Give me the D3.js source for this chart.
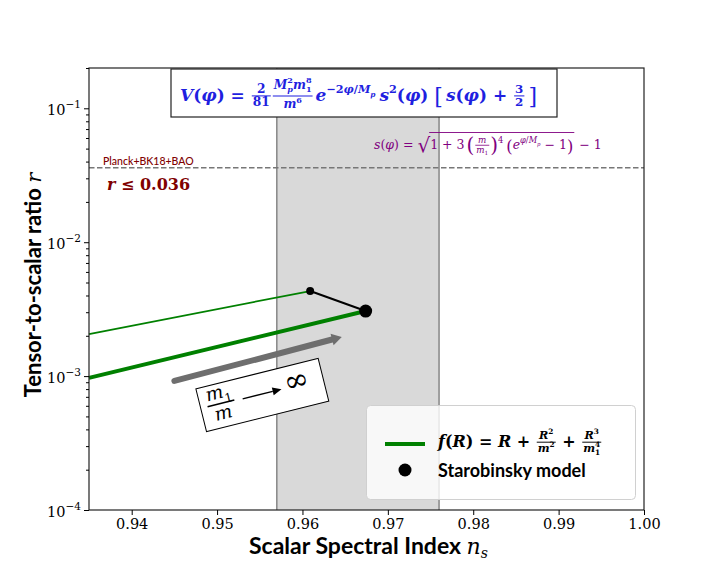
<!DOCTYPE html>
<html>
<head>
<meta charset="utf-8">
<script src="https://cdn.jsdelivr.net/npm/d3@7"></script>
<style>
  body { margin: 0; background: #fff; }
  text { white-space: pre; }
</style>
</head>
<body>
<div id="chart"></div>
<script>
// chart values
const nsDomain = [0.935, 1.0];
const rDomain = [1e-4, 0.2];
const xTickValues = [0.94, 0.95, 0.96, 0.97, 0.98, 0.99, 1.00];
const yMajorTicks = [1e-4, 1e-3, 1e-2, 1e-1];
const planckNs = [0.957, 0.976];
const rUpper = 0.036;
const thinNs = [0.935, 0.9609];
const thinR = [0.00206, 0.00432];
const thickNs = [0.935, 0.9674];
const thickR = [0.00097, 0.00306];
const staroNs = [0.9609, 0.9674];
const staroR = [0.00432, 0.00306];
const staroSize = [4, 6.5];
const arrowNs = [0.945, 0.9646];
const arrowR = [0.00092, 0.00196];

const width = 716, height = 573;
const margin = {top: 68, right: 72, bottom: 63, left: 89};
const serif = "'DejaVu Serif', serif";
const mathFont = "'DejaVu Serif', serif";
const sans = "Lato, 'DejaVu Sans', sans-serif";

const svg = d3.select('#chart').append('svg')
  .attr('width', width).attr('height', height);

const x = d3.scaleLinear().domain(nsDomain).range([margin.left, width - margin.right]);
const y = d3.scaleLog().domain(rDomain).range([height - margin.bottom, margin.top]);

// little math layout helper: strings upright, {i:..} italic, {sup}/{sub}, {frac:[num,den]}
function row(g, x0, y0, size, items) {
  let cx = x0;
  items.forEach(function (it) {
    if (typeof it === 'string' || it.i !== undefined) {
      const s = typeof it === 'string' ? it : it.i;
      const t = g.append('text').attr('x', cx).attr('y', y0)
        .style('font-size', size + 'px')
        .style('font-style', typeof it === 'string' ? 'normal' : 'italic')
        .text(s);
      cx += t.node().getComputedTextLength();
    } else if (it.gap !== undefined) {
      cx += it.gap;
    } else if (it.sup !== undefined || it.sub !== undefined) {
      let w1 = 0, w2 = 0;
      if (it.sup) w1 = row(g, cx, y0 - size * 0.45, size * 0.66, it.sup);
      if (it.sub) w2 = row(g, cx, y0 + size * 0.3, size * 0.66, it.sub);
      cx += Math.max(w1, w2);
    } else if (it.frac) {
      const fs = size * (it.fs || 0.7);
      const lift = it.lift || 0;
      const gn = g.append('g'), gd = g.append('g');
      const wn = row(gn, 0, 0, fs, it.frac[0]);
      const wd = row(gd, 0, 0, fs, it.frac[1]);
      const w = Math.max(wn, wd) + 2;
      cx += 1;
      gn.attr('transform', 'translate(' + (cx + (w - wn) / 2) + ',' + (y0 - size * 0.5 - lift) + ')');
      gd.attr('transform', 'translate(' + (cx + (w - wd) / 2) + ',' + (y0 - size * 0.3 + fs * 0.85 + lift / 2) + ')');
      g.append('line').attr('x1', cx).attr('x2', cx + w)
        .attr('y1', y0 - size * 0.3).attr('y2', y0 - size * 0.3)
        .attr('stroke', g.attr('fill')).attr('stroke-width', Math.max(0.8, size * 0.06));
      cx += w + 1;
    } else if (it.big) {
      const t = g.append('text').attr('x', cx).attr('y', y0 + size * 0.2)
        .style('font-size', size * it.scale + 'px').style('font-weight', 'normal')
        .text(it.big);
      cx += t.node().getComputedTextLength();
    } else if (it.sqrt) {
      const t = g.append('text').attr('x', cx).attr('y', y0 + size * 0.25)
        .style('font-size', size * 1.6 + 'px').style('font-weight', 'normal')
        .text('√');
      const sw = t.node().getComputedTextLength();
      const start = cx + sw - 1;
      const w = row(g, start + 1, y0, size, it.sqrt);
      g.append('line').attr('x1', start).attr('x2', start + w + 2)
        .attr('y1', y0 - size * 1.32).attr('y2', y0 - size * 1.32)
        .attr('stroke', g.attr('fill')).attr('stroke-width', 0.9);
      cx = start + w + 3;
    }
  });
  return cx - x0;
}

// Planck band
svg.append('rect')
  .attr('x', x(planckNs[0])).attr('y', margin.top)
  .attr('width', x(planckNs[1]) - x(planckNs[0]))
  .attr('height', height - margin.bottom - margin.top)
  .attr('fill', '#d9d9d9');
planckNs.forEach(function (v) {
  svg.append('line').attr('x1', x(v)).attr('x2', x(v))
    .attr('y1', margin.top).attr('y2', height - margin.bottom)
    .attr('stroke', '#555').attr('stroke-width', 1);
});

// r bound
svg.append('line')
  .attr('x1', margin.left).attr('x2', width - margin.right)
  .attr('y1', y(rUpper)).attr('y2', y(rUpper))
  .attr('stroke', '#777').attr('stroke-width', 1.5)
  .attr('stroke-dasharray', '5.5,2.5');

const line = d3.line().x(d => x(d[0])).y(d => y(d[1]));

svg.append('path').datum(d3.zip(thinNs, thinR)).attr('d', line)
  .attr('fill', 'none').attr('stroke', 'green').attr('stroke-width', 1.8);
svg.append('path').datum(d3.zip(thickNs, thickR)).attr('d', line)
  .attr('fill', 'none').attr('stroke', 'green').attr('stroke-width', 4);
svg.append('path').datum(d3.zip(staroNs, staroR)).attr('d', line)
  .attr('fill', 'none').attr('stroke', 'black').attr('stroke-width', 2);
svg.selectAll('circle.staro').data(d3.zip(staroNs, staroR, staroSize)).join('circle')
  .attr('class', 'staro')
  .attr('cx', d => x(d[0])).attr('cy', d => y(d[1])).attr('r', d => d[2])
  .attr('fill', 'black');

// arrow drawing helper (line + triangular head)
function arrow(g, x1, y1, x2, y2, col, lw, hl, hw, cap) {
  const ang = Math.atan2(y2 - y1, x2 - x1);
  const bx = x2 - hl * Math.cos(ang), by = y2 - hl * Math.sin(ang);
  g.append('line').attr('x1', x1).attr('y1', y1).attr('x2', bx).attr('y2', by)
    .attr('stroke', col).attr('stroke-width', lw).attr('stroke-linecap', cap);
  g.append('path')
    .attr('d', 'M' + x2 + ',' + y2 +
      'L' + (bx + hw * Math.sin(ang)) + ',' + (by - hw * Math.cos(ang)) +
      'L' + (bx - hw * Math.sin(ang)) + ',' + (by + hw * Math.cos(ang)) + 'Z')
    .attr('fill', col);
}
arrow(svg, x(arrowNs[0]), y(arrowR[0]), x(arrowNs[1]), y(arrowR[1]), '#6e6e6e', 6, 10, 6, 'round');

// rotated m1/m -> infinity box
(function () {
  const g = svg.append('g')
    .attr('transform', 'translate(' + x(0.9553) + ',' + y(0.000723) + ') rotate(-14)')
    .attr('fill', 'black').style('font-family', mathFont);
  g.append('rect').attr('x', -63).attr('y', -22).attr('width', 126).attr('height', 44)
    .attr('fill', 'white').attr('stroke', 'black').attr('stroke-width', 1);
  row(g, -57, 6, 26, [{frac: [[{i: 'm'}, {sub: ['1']}], [{i: 'm'}]], fs: 0.72}]);
  arrow(g, -20, -1, 20, -1, 'black', 1.3, 9, 4, 'butt');
  g.append('text').attr('x', 24).attr('y', 4).style('font-size', '30px').text('∞');
})();

// axes
svg.append('rect')
  .attr('x', margin.left).attr('y', margin.top)
  .attr('width', width - margin.right - margin.left)
  .attr('height', height - margin.bottom - margin.top)
  .attr('fill', 'none').attr('stroke', '#222').attr('stroke-width', 1.2);

const xAxis = svg.append('g')
  .attr('transform', 'translate(0,' + (height - margin.bottom) + ')')
  .call(d3.axisBottom(x).tickValues(xTickValues).tickFormat(d3.format('.2f')).tickSize(5).tickPadding(4));
xAxis.select('.domain').remove();
xAxis.selectAll('text').style('font-family', serif).style('font-size', '14.5px').attr('fill', '#000');

const minor = [];
for (let e = -4; e <= -1; e++) for (let k = 2; k <= 9; k++) {
  const v = k * Math.pow(10, e);
  if (v <= rDomain[1]) minor.push(v);
}
const yAxisMinor = svg.append('g')
  .attr('transform', 'translate(' + margin.left + ',0)')
  .call(d3.axisLeft(y).tickValues(minor).tickFormat('').tickSize(3));
yAxisMinor.select('.domain').remove();

const yAxis = svg.append('g')
  .attr('transform', 'translate(' + margin.left + ',0)')
  .call(d3.axisLeft(y).tickValues(yMajorTicks).tickFormat('').tickSize(5));
yAxis.select('.domain').remove();
yAxis.selectAll('.tick').each(function (d) {
  const t = d3.select(this).append('text')
    .attr('x', -8).attr('y', 6).attr('text-anchor', 'end')
    .attr('fill', '#000').style('font-family', serif).style('font-size', '14.5px');
  t.append('tspan').text('10');
  t.append('tspan').attr('dy', -7).style('font-size', '10.5px').text('−' + Math.round(-Math.log10(d)));
});

svg.append('text')
  .attr('x', (margin.left + width - margin.right) / 2 + 2).attr('y', 554)
  .attr('text-anchor', 'middle')
  .style('font-family', sans).style('font-weight', 'bold').style('font-size', '23px')
  .text('Scalar Spectral Index ')
  .append('tspan').style('font-family', mathFont).style('font-style', 'italic').style('font-weight', 'normal').style('font-size', '22px').text('n')
  .append('tspan').attr('dy', 4).style('font-size', '14px').text('s');

svg.append('text')
  .attr('transform', 'translate(41,' + 285 + ') rotate(-90)')
  .attr('text-anchor', 'middle')
  .style('font-family', sans).style('font-weight', 'bold').style('font-size', '22px')
  .text('Tensor-to-scalar ratio ')
  .append('tspan').style('font-family', mathFont).style('font-style', 'italic').style('font-weight', 'normal').style('font-size', '21px').text('r');

// Planck labels
svg.append('text').attr('x', 103).attr('y', 165)
  .attr('fill', '#800000').style('font-family', sans).style('font-size', '10.5px').style('font-weight', '500')
  .text('Planck+BK18+BAO');
(function () {
  const g = svg.append('g').attr('fill', '#800000').style('font-family', mathFont).style('font-weight', 'bold');
  row(g, 107, 190, 16, [{i: 'r'}, ' ≤ 0.036']);
})();

// potential formula box
svg.append('rect').attr('x', 171).attr('y', 69).attr('width', 386).attr('height', 48)
  .attr('fill', 'white').attr('stroke', '#222').attr('stroke-width', 1.2);
(function () {
  const g = svg.append('g').attr('fill', '#1f1fe0').style('font-family', mathFont).style('font-weight', 'bold');
  row(g, 180, 101, 17, [
    {i: 'V'}, '(', {i: 'φ'}, ') = ',
    {frac: [['2'], ['81']], fs: 0.72},
    {frac: [[{i: 'M'}, {sup: ['2'], sub: [{i: 'p'}]}, {i: 'm'}, {sup: ['8'], sub: ['1']}], [{i: 'm'}, {sup: ['6']}]], fs: 0.72, lift: 4},
    {gap: 2}, {i: 'e'}, {sup: ['−2', {i: 'φ'}, '/', {i: 'M'}, {sub: [{i: 'p'}]}]},
    {gap: 4}, {i: 's'}, {sup: ['2']}, '(', {i: 'φ'}, ')', {gap: 6},
    {big: '[', scale: 1.3}, {gap: 3}, {i: 's'}, '(', {i: 'φ'}, ') + ', {frac: [['3'], ['2']]}, {gap: 3}, {big: ']', scale: 1.3}
  ]);
})();

// s(phi) formula
(function () {
  const g = svg.append('g').attr('fill', '#800080').style('font-family', mathFont);
  row(g, 374, 149, 12.5, [
    {i: 's'}, '(', {i: 'φ'}, ') = ',
    {sqrt: ['1 + 3', {gap: 2}, {big: '(', scale: 1.6}, {frac: [[{i: 'm'}], [{i: 'm'}, {sub: ['1']}]]}, {big: ')', scale: 1.6},
      {sup: ['4']}, {gap: 3}, {big: '(', scale: 1.3}, {i: 'e'}, {sup: [{i: 'φ'}, '/', {i: 'M'}, {sub: [{i: 'p'}]}]}, ' − 1', {big: ')', scale: 1.3}]},
    ' − 1'
  ]);
})();

// legend
(function () {
  const g = svg.append('g');
  g.append('rect').attr('x', 366.5).attr('y', 405.5).attr('width', 269).attr('height', 94).attr('rx', 4)
    .attr('fill', 'white').attr('fill-opacity', 0.8).attr('stroke', '#d0d0d0');
  g.append('line').attr('x1', 385).attr('x2', 425).attr('y1', 444).attr('y2', 444)
    .attr('stroke', 'green').attr('stroke-width', 4);
  g.append('circle').attr('cx', 405).attr('cy', 470).attr('r', 6.5).attr('fill', 'black');
  const gm = g.append('g').attr('fill', 'black').style('font-family', mathFont).style('font-weight', 'bold');
  row(gm, 438, 447, 16, [{i: 'f'}, '(', {i: 'R'}, ') = ', {i: 'R'}, ' + ',
    {frac: [[{i: 'R'}, {sup: ['2']}], [{i: 'm'}, {sup: ['2']}]]}, ' + ',
    {frac: [[{i: 'R'}, {sup: ['3']}], [{i: 'm'}, {sup: ['4'], sub: ['1']}]]}]);
  g.append('text').attr('x', 438).attr('y', 477)
    .style('font-family', sans).style('font-weight', 'bold').style('font-size', '18px')
    .text('Starobinsky model');
})();
</script>
</body>
</html>
